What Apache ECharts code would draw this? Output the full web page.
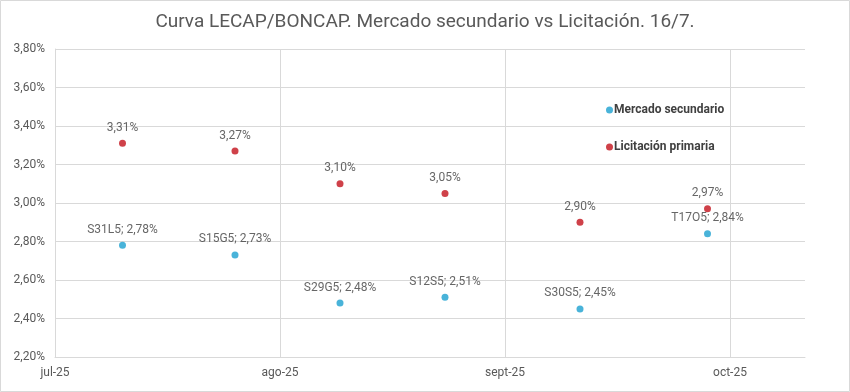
<!DOCTYPE html>
<html>
<head>
<meta charset="utf-8">
<script src="https://cdn.jsdelivr.net/npm/echarts@6/dist/echarts.min.js"></script>
<style>
  html, body { margin: 0; padding: 0; background: #fff; }
  #chart { width: 850px; height: 392px; }
</style>
</head>
<body>
<div id="chart"></div>
<script>
// ---- Data ----
const titleText = "Curva LECAP/BONCAP. Mercado secundario vs Licitación. 16/7.";
const tickers = ["S31L5", "S15G5", "S29G5", "S12S5", "S30S5", "T17O5"];
const maturities = ["2025-07-31", "2025-08-15", "2025-08-29", "2025-09-12", "2025-09-30", "2025-10-17"];
const secundario = [2.78, 2.73, 2.48, 2.51, 2.45, 2.84];
const primaria = [3.31, 3.27, 3.10, 3.05, 2.90, 2.97];
const seriesNames = ["Mercado secundario", "Licitación primaria"];
const xTickLabels = ["jul-25", "ago-25", "sept-25", "oct-25"];
const axisStartDate = "2025-07-22";
const xStepDays = 30;
const xMaxDays = 100;
const yMin = 2.2, yMax = 3.8, yStep = 0.2;

// ---- Helpers ----
const DAY = 86400000;
const start = Date.parse(axisStartDate + "T00:00:00Z");
const dayOffset = d => Math.round((Date.parse(d + "T00:00:00Z") - start) / DAY);
const pct = v => v.toFixed(2).replace(".", ",") + "%";

const secData = maturities.map((d, i) => [dayOffset(d), secundario[i], tickers[i]]);
const priData = maturities.map((d, i) => [dayOffset(d), primaria[i], tickers[i]]);

const FONT = "Roboto";
const chart = echarts.init(document.getElementById("chart"), null, { renderer: "canvas" });
chart.setOption({
  animation: false,
  textStyle: { fontFamily: FONT },
  title: {
    text: titleText,
    left: "center",
    top: 8,
    textStyle: { fontFamily: FONT, fontSize: 19, fontWeight: "normal", color: "#595959" }
  },
  graphic: [{
    type: "rect",
    shape: { x: 0.5, y: 0.5, width: 849, height: 391 },
    style: { fill: "none", stroke: "#d9d9d9", lineWidth: 1 },
    silent: true
  }],
  legend: {
    orient: "vertical",
    left: 601,
    top: 99,
    itemGap: 25,
    itemWidth: 7,
    itemHeight: 7,
    icon: "circle",
    data: seriesNames,
    textStyle: { fontFamily: FONT, fontSize: 12, fontWeight: "bold", color: "#404040", padding: [0, 0, 0, -4] }
  },
  grid: { left: 55, right: 45, top: 49, bottom: 35, containLabel: false },
  xAxis: {
    type: "value",
    min: 0,
    max: xMaxDays,
    interval: xStepDays,
    axisLine: { show: true, lineStyle: { color: "#d9d9d9" } },
    axisTick: { show: false },
    axisLabel: {
      color: "#595959", fontSize: 12, fontFamily: FONT, margin: 10,
      showMaxLabel: false,
      formatter: v => {
        const i = Math.round(v / xStepDays);
        return (v % xStepDays === 0 && xTickLabels[i]) ? xTickLabels[i] : "";
      }
    },
    splitLine: { show: true, showMaxLine: false, lineStyle: { color: "#d9d9d9" } }
  },
  yAxis: {
    type: "value",
    min: yMin,
    max: yMax,
    interval: yStep,
    axisLine: { show: true, lineStyle: { color: "#d9d9d9" } },
    axisTick: { show: false },
    axisLabel: { color: "#595959", fontSize: 12, fontFamily: FONT, margin: 10, formatter: v => pct(v) },
    splitLine: { show: true, lineStyle: { color: "#d9d9d9" } }
  },
  series: [
    {
      name: seriesNames[0],
      type: "scatter",
      symbol: "circle",
      symbolSize: 7,
      itemStyle: { color: "#1BA0D0" },
      data: secData,
      label: {
        show: true, position: "top", distance: 6,
        color: "#404040", fontSize: 12, fontFamily: FONT,
        formatter: p => p.data[2] + "; " + pct(p.data[1])
      }
    },
    {
      name: seriesNames[1],
      type: "scatter",
      symbol: "circle",
      symbolSize: 7,
      itemStyle: { color: "#C3111B" },
      data: priData,
      label: {
        show: true, position: "top", distance: 6,
        color: "#404040", fontSize: 12, fontFamily: FONT,
        formatter: p => pct(p.data[1])
      }
    }
  ]
});
</script>
</body>
</html>
